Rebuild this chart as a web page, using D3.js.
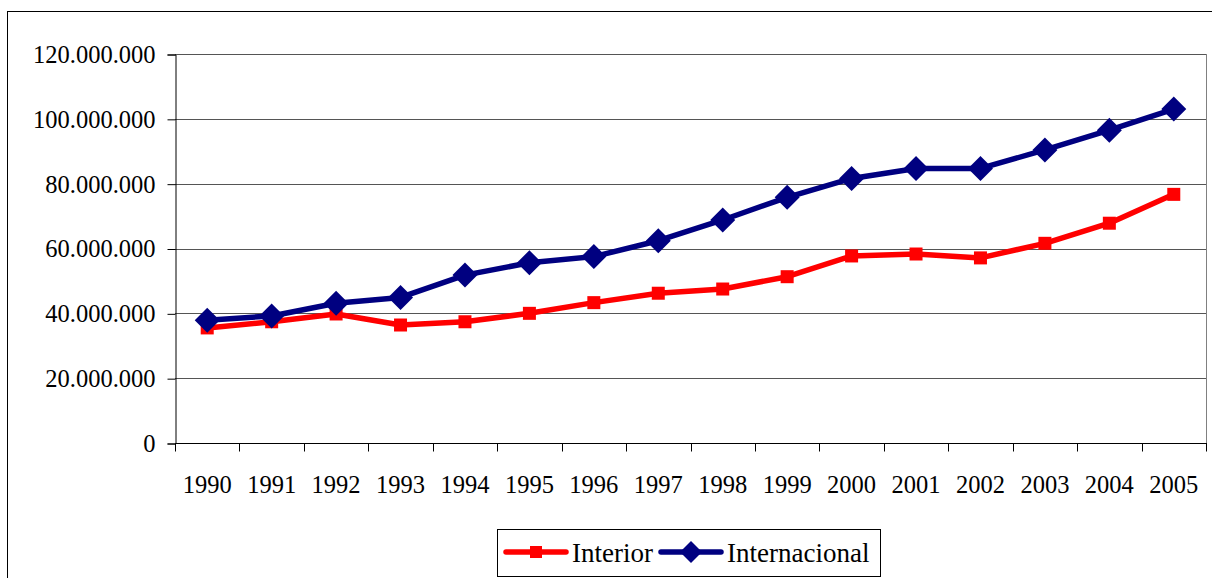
<!DOCTYPE html>
<html>
<head>
<meta charset="utf-8">
<script src="https://cdn.jsdelivr.net/npm/d3@7"></script>
<style>
  body { margin: 0; background: #fff; }
</style>
</head>
<body>
<svg id="chart" width="1212" height="578"></svg>
<script>
  var years = ["1990", "1991", "1992", "1993", "1994", "1995", "1996", "1997",
               "1998", "1999", "2000", "2001", "2002", "2003", "2004", "2005"],
      interior = [35.5, 37.4, 39.8, 36.4, 37.4, 40.0, 43.3, 46.2,
                  47.5, 51.3, 57.7, 58.3, 57.1, 61.6, 67.8, 76.7],
      internacional = [37.9, 39.2, 43.1, 44.9, 51.8, 55.6, 57.5, 62.4,
                       68.8, 75.8, 81.6, 84.7, 84.7, 90.4, 96.5, 103.0],
      yTicks = [0, 20, 40, 60, 80, 100, 120],
      seriesNames = ["Interior", "Internacional"];

  var FONT = "'Liberation Serif', 'Times New Roman', Times, serif";

  var svg = d3.select("#chart"),
      plot = { left: 175, top: 54, right: 1206, bottom: 443 },
      fmt = function (d) { return d === 0 ? "0" : d3.format(",")(d * 1e6).replace(/,/g, "."); };

  var x = d3.scaleBand().domain(years).range([plot.left, plot.right]),
      y = d3.scaleLinear().domain([0, 120]).range([plot.bottom, plot.top]);

  // outer chart border (runs off the right/bottom edge like the original)
  svg.append("rect")
    .attr("x", 7.5).attr("y", 11.5)
    .attr("width", 1215).attr("height", 580)
    .attr("fill", "none").attr("stroke", "#000").attr("stroke-width", 1);

  // gridlines
  svg.append("g").selectAll("line").data(yTicks.slice(1)).enter().append("line")
    .attr("x1", plot.left).attr("x2", plot.right)
    .attr("y1", function (d) { return Math.round(y(d)) + 0.5; })
    .attr("y2", function (d) { return Math.round(y(d)) + 0.5; })
    .attr("stroke", "#555").attr("stroke-width", 1);

  // right edge of plot area
  svg.append("line")
    .attr("x1", plot.right + 0.5).attr("x2", plot.right + 0.5)
    .attr("y1", plot.top).attr("y2", plot.bottom)
    .attr("stroke", "#808080");

  // y axis
  var yAxis = svg.append("g")
    .attr("transform", "translate(" + (plot.left + 0.5) + ",0.5)")
    .call(d3.axisLeft(y).tickValues(yTicks).tickFormat(fmt).tickSize(8).tickPadding(12));
  yAxis.selectAll("path, line").attr("stroke", "#000");
  yAxis.selectAll("text").style("font-family", FONT).style("font-size", "24.5px");

  // x axis: ticks at band boundaries, labels at band centres
  var xAxis = svg.append("g")
    .attr("transform", "translate(0," + (Math.round(plot.bottom) + 0.5) + ")");
  xAxis.append("line")
    .attr("x1", plot.left).attr("x2", plot.right + 1)
    .attr("stroke", "#000");
  xAxis.selectAll("line.tick").data(years.concat(["end"])).enter().append("line")
    .attr("class", "tick")
    .attr("x1", function (d, i) { return Math.round(plot.left + i * x.bandwidth()) + 0.5; })
    .attr("x2", function (d, i) { return Math.round(plot.left + i * x.bandwidth()) + 0.5; })
    .attr("y1", 0).attr("y2", 8)
    .attr("stroke", "#000");
  xAxis.selectAll("text").data(years).enter().append("text")
    .attr("x", function (d) { return x(d) + x.bandwidth() / 2; })
    .attr("y", 49)
    .attr("text-anchor", "middle")
    .style("font-family", FONT).style("font-size", "24.5px")
    .text(function (d) { return d; });

  var line = d3.line()
    .x(function (d, i) { return x(years[i]) + x.bandwidth() / 2; })
    .y(function (d) { return y(d); });

  function square(g, cx, cy, color) {
    g.append("rect")
      .attr("x", cx - 6.5).attr("y", cy - 6.5)
      .attr("width", 13).attr("height", 13)
      .attr("fill", color);
  }
  function diamond(g, cx, cy, color) {
    g.append("path")
      .attr("d", "M" + cx + "," + (cy - 12.5) + "L" + (cx + 12.5) + "," + cy +
                 "L" + cx + "," + (cy + 12.5) + "L" + (cx - 12.5) + "," + cy + "Z")
      .attr("fill", color);
  }

  // Interior series
  var gRed = svg.append("g");
  gRed.append("path").datum(interior)
    .attr("d", line).attr("fill", "none")
    .attr("stroke", "#ff0000").attr("stroke-width", 5.5).attr("stroke-linejoin", "round");
  interior.forEach(function (v, i) {
    square(gRed, x(years[i]) + x.bandwidth() / 2, y(v), "#ff0000");
  });

  // Internacional series
  var gBlue = svg.append("g");
  gBlue.append("path").datum(internacional)
    .attr("d", line).attr("fill", "none")
    .attr("stroke", "#000080").attr("stroke-width", 5.5).attr("stroke-linejoin", "round");
  internacional.forEach(function (v, i) {
    diamond(gBlue, x(years[i]) + x.bandwidth() / 2, y(v), "#000080");
  });

  // legend
  var legend = svg.append("g");
  legend.append("rect")
    .attr("x", 497.5).attr("y", 529.5).attr("width", 383).attr("height", 47)
    .attr("fill", "#fff").attr("stroke", "#000");
  var items = [
    { name: seriesNames[0], color: "#ff0000", marker: "square", x0: 506 },
    { name: seriesNames[1], color: "#000080", marker: "diamond", x0: 661 }
  ];
  items.forEach(function (it) {
    legend.append("line")
      .attr("x1", it.x0).attr("x2", it.x0 + 60)
      .attr("y1", 552).attr("y2", 552)
      .attr("stroke", it.color).attr("stroke-width", 5.5).attr("stroke-linecap", "round");
    if (it.marker === "square") {
      legend.append("rect").attr("x", it.x0 + 24).attr("y", 546)
        .attr("width", 12).attr("height", 12).attr("fill", it.color);
    } else {
      legend.append("path")
        .attr("d", "M" + (it.x0 + 30) + ",541L" + (it.x0 + 41) + ",552L" + (it.x0 + 30) + ",563L" + (it.x0 + 19) + ",552Z")
        .attr("fill", it.color);
    }
    legend.append("text")
      .attr("x", it.x0 + 66).attr("y", 562)
      .style("font-family", FONT).style("font-size", "27px")
      .text(it.name);
  });
</script>
</body>
</html>
